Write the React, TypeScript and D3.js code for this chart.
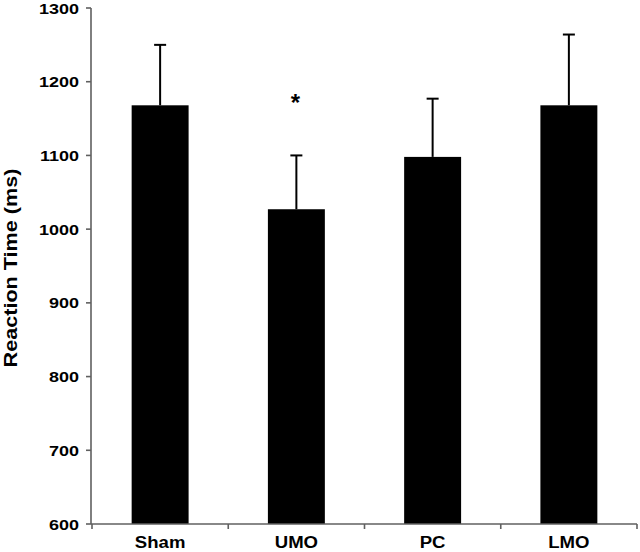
import React from "react";
import * as d3 from "d3";

const categories = ["Sham", "UMO", "PC", "LMO"];
const means = [1168, 1027, 1098, 1168];
const errorTops = [1250, 1100, 1177, 1264];
const significance = ["", "*", "", ""];
const yTicks = [600, 700, 800, 900, 1000, 1100, 1200, 1300];

const W = 640;
const H = 552;
const FONT = "'Liberation Sans', Arial, sans-serif";

export default function App() {
  const x = d3.scaleBand<string>().domain(categories).range([92, 637]).padding(0);
  const y = d3.scaleLinear().domain([600, 1300]).range([524, 8]);
  const barW = x.bandwidth() * 0.418;
  const axisColor = "#606060";
  const boundaries = [...categories.map((c) => x(c) as number), x.range()[1]];

  return (
    <svg width={W} height={H} style={{ position: "absolute", left: 0, top: 0, background: "#fff" }}>
      {/* bars */}
      {categories.map((c, i) => {
        const cx = (x(c) as number) + x.bandwidth() / 2;
        return (
          <g key={c}>
            <line x1={cx} x2={cx} y1={y(means[i])} y2={y(errorTops[i])} stroke="#000" strokeWidth={2} />
            <line x1={cx - 6} x2={cx + 6} y1={y(errorTops[i])} y2={y(errorTops[i])} stroke="#000" strokeWidth={2} />
            <rect x={cx - barW / 2} y={y(means[i])} width={barW} height={y(600) - y(means[i])} fill="#000" />
            {significance[i] && (
              <text x={cx - 1} y={y(errorTops[i]) - 44} textAnchor="middle" fontFamily={FONT} fontWeight="bold" fontSize={24}>
                {significance[i]}
              </text>
            )}
          </g>
        );
      })}
      {/* y axis */}
      <line x1={91} x2={91} y1={y(1300)} y2={y(600)} stroke={axisColor} strokeWidth={1.6} />
      {yTicks.map((t) => (
        <g key={t}>
          <line x1={86} x2={91} y1={y(t)} y2={y(t)} stroke={axisColor} strokeWidth={1.6} />
          <text
            transform={`translate(79,${y(t) + 5.5}) scale(1.2,1)`}
            textAnchor="end"
            fontFamily={FONT}
            fontWeight="bold"
            fontSize={15}
            fill="#000"
          >
            {t}
          </text>
        </g>
      ))}
      {/* x axis */}
      <line x1={91} x2={637} y1={y(600)} y2={y(600)} stroke={axisColor} strokeWidth={1.6} />
      {boundaries.map((b, i) => (
        <line key={i} x1={b} x2={b} y1={y(600)} y2={y(600) + 5} stroke={axisColor} strokeWidth={1.6} />
      ))}
      {categories.map((c) => (
        <text
          key={c}
          transform={`translate(${(x(c) as number) + x.bandwidth() / 2},548) scale(1.16,1)`}
          textAnchor="middle"
          fontFamily={FONT}
          fontWeight="bold"
          fontSize={16}
          fill="#000"
        >
          {c}
        </text>
      ))}
      <text
        transform={`translate(17,268) rotate(-90) scale(1.2,1)`}
        textAnchor="middle"
        fontFamily={FONT}
        fontWeight="bold"
        fontSize={18}
        fill="#000"
      >
        Reaction Time (ms)
      </text>
    </svg>
  );
}
